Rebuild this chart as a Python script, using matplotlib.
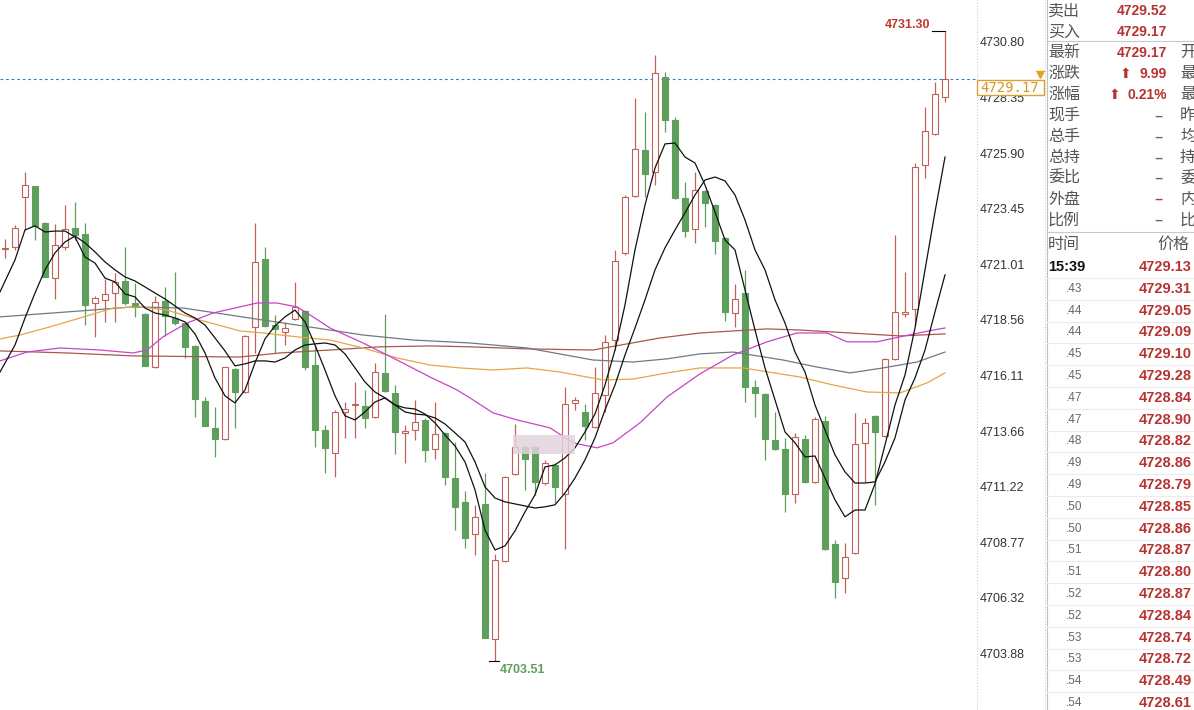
import matplotlib
matplotlib.use("Agg")
import matplotlib.pyplot as plt
from matplotlib.patches import Rectangle
from matplotlib.lines import Line2D

# ---- candle data (one bar per slot, left to right) ----
opens = [4721.68, 4721.77, 4723.97, 4724.46, 4722.83, 4720.40, 4721.77, 4722.61, 4722.34, 4719.30,
         4719.44, 4719.74, 4720.27, 4719.30, 4718.82, 4716.48, 4719.39, 4718.64, 4718.42, 4717.41,
         4714.99, 4713.80, 4713.31, 4716.40, 4715.38, 4718.25, 4721.24, 4718.33, 4718.03, 4718.60,
         4718.95, 4716.57, 4713.71, 4712.70, 4714.50, 4714.79, 4714.77, 4714.28, 4716.22, 4715.34,
         4713.58, 4713.71, 4714.15, 4712.87, 4713.58, 4711.59, 4710.54, 4709.13, 4710.45, 4704.50,
         4707.94, 4711.77, 4712.96, 4712.96, 4711.37, 4712.17, 4710.89, 4714.90, 4714.50, 4713.84,
         4715.25, 4717.67, 4721.51, 4724.02, 4726.04, 4725.07, 4729.26, 4727.36, 4723.93, 4722.56,
         4724.24, 4723.62, 4722.17, 4718.86, 4719.74, 4715.60, 4715.29, 4713.27, 4712.87, 4710.89,
         4713.31, 4711.42, 4714.11, 4708.69, 4707.19, 4708.29, 4713.14, 4714.33, 4713.44, 4716.84,
         4718.82, 4719.04, 4725.38, 4726.75, 4728.38]
highs = [4722.12, 4722.74, 4725.07, 4724.46, 4722.87, 4722.78, 4723.62, 4723.75, 4722.83, 4719.61,
         4720.36, 4720.62, 4721.77, 4720.18, 4718.86, 4719.61, 4720.01, 4720.67, 4718.47, 4717.45,
         4715.16, 4714.72, 4716.48, 4716.44, 4717.89, 4722.83, 4721.77, 4718.78, 4718.47, 4720.23,
         4718.99, 4717.45, 4713.93, 4714.59, 4714.94, 4715.82, 4715.47, 4716.66, 4718.82, 4715.69,
         4713.93, 4715.03, 4714.24, 4714.94, 4713.62, 4713.18, 4711.02, 4710.41, 4711.81, 4708.25,
         4711.68, 4713.98, 4713.05, 4713.00, 4712.39, 4712.25, 4715.60, 4715.16, 4714.85, 4716.48,
         4717.89, 4721.64, 4724.06, 4728.33, 4727.72, 4730.23, 4729.48, 4727.50, 4724.63, 4725.07,
         4724.28, 4723.66, 4722.21, 4720.14, 4720.76, 4715.91, 4715.34, 4714.50, 4713.36, 4713.58,
         4713.49, 4714.28, 4714.33, 4708.86, 4708.73, 4714.46, 4714.24, 4714.37, 4716.88, 4722.30,
         4720.67, 4725.47, 4727.94, 4729.04, 4731.30]
lows = [4721.29, 4721.64, 4722.52, 4722.08, 4720.45, 4719.48, 4721.64, 4722.08, 4718.33, 4717.81,
        4718.47, 4718.47, 4719.22, 4718.69, 4716.53, 4716.44, 4717.85, 4718.33, 4716.88, 4714.28,
        4713.89, 4712.52, 4713.27, 4713.80, 4715.34, 4717.10, 4718.25, 4717.10, 4717.45, 4718.55,
        4716.35, 4712.96, 4711.81, 4711.64, 4713.36, 4713.36, 4713.80, 4714.24, 4715.38, 4712.65,
        4712.25, 4713.27, 4712.30, 4712.43, 4711.29, 4709.30, 4708.51, 4708.20, 4704.55, 4703.51,
        4707.89, 4711.73, 4711.07, 4710.85, 4711.29, 4710.49, 4708.47, 4714.59, 4713.27, 4713.80,
        4714.50, 4717.23, 4721.42, 4723.97, 4723.97, 4724.50, 4726.84, 4723.88, 4722.21, 4721.95,
        4722.65, 4721.46, 4718.51, 4718.25, 4714.94, 4714.28, 4712.39, 4712.83, 4710.10, 4710.49,
        4711.37, 4711.37, 4708.42, 4706.31, 4706.53, 4708.25, 4711.42, 4710.41, 4713.40, 4716.79,
        4718.69, 4718.29, 4724.81, 4726.70, 4728.16]
closes = [4721.70, 4722.61, 4724.50, 4722.70, 4720.45, 4721.86, 4722.56, 4722.30, 4719.22, 4719.52,
          4719.70, 4720.23, 4719.30, 4719.13, 4716.53, 4719.35, 4718.73, 4718.42, 4717.37, 4715.07,
          4713.89, 4713.31, 4716.48, 4715.38, 4717.85, 4721.11, 4718.29, 4718.16, 4718.20, 4719.13,
          4716.48, 4713.71, 4712.92, 4714.50, 4714.63, 4714.81, 4714.24, 4716.26, 4715.43, 4713.62,
          4713.66, 4714.06, 4712.83, 4713.53, 4711.64, 4710.32, 4708.95, 4709.88, 4704.55, 4707.98,
          4711.64, 4712.96, 4712.43, 4711.42, 4712.25, 4711.20, 4714.85, 4715.03, 4713.89, 4715.34,
          4717.59, 4721.15, 4723.97, 4726.09, 4724.99, 4729.43, 4727.36, 4723.93, 4722.47, 4724.28,
          4723.71, 4722.03, 4718.91, 4719.48, 4715.60, 4715.34, 4713.31, 4712.87, 4710.89, 4713.40,
          4711.42, 4714.19, 4708.47, 4707.01, 4708.11, 4713.09, 4714.02, 4713.62, 4716.84, 4718.91,
          4718.91, 4725.29, 4726.88, 4728.51, 4729.17]

# ---- moving average lines (bar position, price) ----
ma_fast_x = [-0.5] + list(range(1, 95))
ma_fast = [4719.79, 4721.20, 4722.52, 4722.70, 4722.43, 4722.47, 4722.47, 4722.21, 4721.33, 4721.06,
           4720.40, 4720.23, 4719.70, 4719.57, 4719.08, 4718.86, 4718.77, 4718.64, 4718.47, 4717.94,
           4717.10, 4716.00, 4715.21, 4714.90, 4715.47, 4716.66, 4717.72, 4718.29, 4718.69, 4718.99,
           4718.47, 4717.45, 4716.35, 4715.21, 4714.33, 4714.15, 4714.50, 4714.94, 4715.12, 4714.81,
           4714.68, 4714.63, 4714.41, 4714.02, 4713.49, 4713.00, 4712.30, 4711.07, 4709.30, 4708.42,
           4708.60, 4709.26, 4710.10, 4710.85, 4712.08, 4712.17, 4712.48, 4712.92, 4713.62, 4714.41,
           4715.69, 4717.23, 4719.22, 4721.64, 4723.62, 4725.25, 4726.31, 4726.35, 4725.73, 4725.47,
           4724.50, 4723.31, 4722.08, 4721.64, 4719.88, 4718.11, 4716.44, 4715.03, 4713.62, 4713.14,
           4712.52, 4712.56, 4711.59, 4710.63, 4709.88, 4710.18, 4710.18, 4711.33, 4713.05, 4714.81,
           4716.13, 4718.20, 4720.76, 4723.31, 4725.73]
ma_slow_x = [-0.5] + list(range(1, 95))
ma_slow = [4716.26, 4717.45, 4718.64, 4719.74, 4720.76, 4721.51, 4721.99, 4722.25, 4721.95, 4721.55,
           4721.11, 4720.76, 4720.45, 4720.27, 4720.01, 4719.74, 4719.48, 4719.17, 4718.86, 4718.64,
           4718.33, 4717.76, 4717.19, 4716.53, 4716.62, 4716.75, 4716.75, 4716.70, 4716.88, 4717.23,
           4717.45, 4717.50, 4717.54, 4717.45, 4717.06, 4716.44, 4715.82, 4715.38, 4715.12, 4714.81,
           4714.50, 4714.41, 4714.37, 4714.24, 4713.97, 4713.58, 4713.18, 4712.30, 4711.20, 4710.71,
           4710.54, 4710.45, 4710.36, 4710.27, 4710.32, 4710.41, 4710.93, 4711.59, 4712.39, 4713.36,
           4714.59, 4715.69, 4717.01, 4718.20, 4719.44, 4720.76, 4721.73, 4722.52, 4723.27, 4724.06,
           4724.72, 4724.85, 4724.68, 4724.06, 4722.96, 4721.64, 4720.76, 4719.44, 4718.42, 4717.14,
           4716.26, 4714.81, 4713.71, 4712.61, 4711.86, 4711.37, 4711.37, 4711.42, 4712.30, 4713.36,
           4715.03, 4716.00, 4717.23, 4718.91, 4720.54]

ma_magenta_x = [-0.5, 2.2, 5.5, 9.5, 12.8, 14.2, 15.8, 18.2, 20.8, 23.5, 25.2, 27.2, 29.2, 30.8, 32.5,
                35.8, 39.2, 42.5, 45.2, 46.5, 48.8, 51.2, 54.5, 56.8, 59.2, 60.8, 63.5, 66.2, 69.5,
                72.8, 76.2, 79.2, 82.2, 84.2, 87.2, 89.5, 92.8, 94]
ma_magenta = [4716.75, 4717.14, 4717.32, 4717.23, 4717.10, 4717.23, 4717.81, 4718.42, 4718.86, 4719.13,
              4719.30, 4719.30, 4719.13, 4718.69, 4718.20, 4717.54, 4716.79, 4716.04, 4715.47, 4715.12,
              4714.46, 4714.15, 4713.80, 4713.14, 4712.92, 4713.14, 4714.02, 4715.16, 4716.18, 4717.01,
              4717.59, 4717.98, 4717.98, 4717.59, 4717.59, 4717.81, 4718.11, 4718.20]

ma_gray_x = [-0.5, 7.5, 12.8, 17.8, 22.5, 25.8, 29.2, 32.5, 35.8, 40.8, 46.5, 52.2, 58.8, 62.8, 66.2,
             69.5, 72.8, 77.8, 81.2, 84.5, 87.8, 91.2, 94]
ma_gray = [4718.69, 4718.95, 4719.13, 4719.08, 4718.77, 4718.55, 4718.33, 4718.11, 4717.89, 4717.67,
           4717.54, 4717.32, 4716.79, 4716.70, 4716.84, 4717.06, 4717.14, 4716.79, 4716.48, 4716.22,
           4716.44, 4716.70, 4717.14]

ma_orange_x = [-0.5, 1.5, 4.5, 7.5, 10.8, 13.5, 16.2, 19.5, 23.5, 25.8, 29.2, 32.5, 35.8, 39.2, 42.5,
               45.5, 48.8, 52.2, 55.5, 59.8, 62.8, 66.2, 69.5, 73.8, 79.5, 82.8, 86.2, 89.5, 92.2, 94]
ma_orange = [4717.72, 4717.89, 4718.25, 4718.64, 4719.08, 4719.13, 4718.99, 4718.55, 4718.07, 4717.98,
             4717.81, 4717.67, 4717.32, 4716.88, 4716.57, 4716.44, 4716.35, 4716.44, 4716.26, 4715.91,
             4715.95, 4716.22, 4716.44, 4716.44, 4716.04, 4715.69, 4715.38, 4715.34, 4715.78, 4716.22]

ma_brown_x = [-0.5, 6.2, 12.8, 23.5, 27.5, 32.5, 37.5, 42.5, 46.5, 52.2, 58.8, 65.5, 69.5, 76.2, 79.5,
              84.5, 89.5, 94]
ma_brown = [4717.19, 4717.10, 4716.97, 4716.92, 4717.10, 4717.23, 4717.37, 4717.41, 4717.37, 4717.28,
            4717.23, 4717.76, 4717.98, 4718.16, 4718.11, 4717.98, 4717.85, 4717.94]

# price axis
price_ticks = [4730.80, 4728.35, 4725.90, 4723.45, 4721.01, 4718.56,
               4716.11, 4713.66, 4711.22, 4708.77, 4706.32, 4703.88]
last_price = 4729.17
high_price = 4731.30
low_price = 4703.51

# quote panel
quote_labels = ['卖出', '买入', '最新', '涨跌', '涨幅', '现手', '总手', '总持', '委比', '外盘', '比例']
quote_values = ['4729.52', '4729.17', '4729.17', '9.99', '0.21%', '–', '–', '–', '–', '–', '–']
quote_extra = ['', '', '开', '最', '最', '昨', '均', '持', '委', '内', '比']

tick_times = ['15:39', '.43', '.44', '.44', '.45', '.45', '.47', '.47', '.48', '.49', '.49',
              '.50', '.50', '.51', '.51', '.52', '.52', '.53', '.53', '.54', '.54']
tick_prices = ['4729.13', '4729.31', '4729.05', '4729.09', '4729.10', '4729.28', '4728.84',
               '4728.90', '4728.82', '4728.86', '4728.79', '4728.85', '4728.86', '4728.87',
               '4728.80', '4728.87', '4728.84', '4728.74', '4728.72', '4728.49', '4728.61']

up_col = '#c0625a'
down_col = '#5e9f5e'
red = '#b83232'
cjk = ['Noto Sans CJK SC', 'DejaVu Sans']

W, H = 1194, 710
fig = plt.figure(figsize=(W / 100, H / 100), dpi=100)
fig.patch.set_facecolor('white')

def fx(px):
    return px / W

def fy(py):
    return 1 - py / H

ax = fig.add_axes([0, 0, 977 / W, 1])
ax.set_xlim(-0.5, 97.2)
ax.set_ylim(4701.37, 4732.65)
for s in ax.spines.values():
    s.set_visible(False)
ax.set_xticks([])
ax.yaxis.tick_right()
ax.set_yticks(price_ticks)
ax.set_yticklabels([f'{v:.2f}' for v in price_ticks])
ax.tick_params(axis='y', length=0, pad=2, labelsize=9, labelcolor='#333333')
for lab in ax.get_yticklabels():
    lab.set_family('Liberation Sans')

# candles
for i, (o, h, l, c) in enumerate(zip(opens, highs, lows, closes)):
    up = c >= o
    col = up_col if up else down_col
    ax.vlines(i, l, h, color=col, lw=0.9, zorder=2)
    ax.bar(i, max(abs(c - o), 0.06), bottom=min(o, c), width=0.62,
           facecolor='white' if up else down_col, edgecolor=col, linewidth=0.8, zorder=3)

# moving averages
ax.plot(ma_brown_x, ma_brown, color='#a8574e', lw=0.9, zorder=4)
ax.plot(ma_gray_x, ma_gray, color='#6f7a82', lw=0.9, zorder=4)
ax.plot(ma_orange_x, ma_orange, color='#e7a545', lw=0.9, zorder=4)
ax.plot(ma_magenta_x, ma_magenta, color='#c844c8', lw=0.9, zorder=4)
ax.plot(ma_slow_x, ma_slow, color='#111111', lw=0.9, zorder=4)
ax.plot(ma_fast_x, ma_fast, color='#111111', lw=0.9, zorder=4)

# blurred watermark patch
ax.add_patch(Rectangle((50.8, 4712.65), 6.2, 0.84, facecolor='#e2d3dc', edgecolor='none',
                       alpha=0.85, zorder=5))

# last price line
ax.axhline(last_price, color='#2f80c8', lw=0.8, ls=(0, (2.5, 2.5)), zorder=1)

# high / low markers
hi_i = highs.index(high_price)
lo_i = lows.index(low_price)
ax.plot([hi_i - 1.25, hi_i], [high_price, high_price], color='black', lw=0.8, zorder=4)
ax.text(hi_i - 1.5, high_price + 0.25, f'{high_price:.2f}', ha='right', va='center',
        color='#c0392b', fontsize=9, fontweight='bold', family='Liberation Sans')
ax.plot([lo_i - 0.6, lo_i + 0.4], [low_price, low_price], color='black', lw=0.8, zorder=4)
ax.text(lo_i + 0.5, low_price - 0.36, f'{low_price:.2f}', ha='left', va='center',
        color='#5e9f5e', fontsize=9, fontweight='bold', family='Liberation Sans')

# separators
fig.add_artist(Line2D([fx(977), fx(977)], [0, 1], color='#cfcfcf', lw=0.8, ls=':'))
fig.add_artist(Line2D([fx(1045), fx(1045)], [0, 1], color='#cfcfcf', lw=0.8, ls=':'))
fig.add_artist(Line2D([fx(1047), fx(1047)], [0, 1], color='#c0c0c0', lw=0.8))

# last price box
fig.add_artist(Rectangle((fx(977), fy(95)), 67 / W, 15 / H, transform=fig.transFigure,
                         facecolor='white', edgecolor='#e0a030', lw=1, zorder=5))
fig.text(fx(980), fy(87.5), f'{last_price:.2f}', ha='left', va='center', color='#d09a20',
         fontsize=10, family='DejaVu Sans Mono', zorder=6)
fig.add_artist(Line2D([fx(1040)], [fy(75)], marker='v', ms=5, color='#e8a020', lw=0))
fig.add_artist(Line2D([fx(1036), fx(1044)], [fy(71), fy(71)], color='#e8a020', lw=1))

# quote panel
for r, (lab, val, ext) in enumerate(zip(quote_labels, quote_values, quote_extra)):
    yy = fy(11 + 20.9 * r)
    fig.text(fx(1048), yy, lab, ha='left', va='center', fontsize=11.5, color='#555555', family=cjk)
    if val == '–':
        col = red if lab == '外盘' else '#666666'
        fig.text(fx(1158), yy, val, ha='center', va='center', fontsize=12, color=col)
    else:
        fig.text(fx(1167), yy, val, ha='right', va='center', fontsize=10, color=red,
                 fontweight='bold', family='Liberation Sans')
        if lab in ('涨跌', '涨幅'):
            wid = 34 if lab == '涨跌' else 45
            fig.text(fx(1167 - wid - 2), yy, '⬆', ha='right', va='center', fontsize=10,
                     color=red, family='DejaVu Sans')
    if ext:
        fig.text(fx(1180), yy, ext, ha='left', va='center', fontsize=11.5, color='#555555', family=cjk)
fig.add_artist(Line2D([fx(1047), 1], [fy(41), fy(41)], color='#c8c8c8', lw=0.8))
fig.add_artist(Line2D([fx(1047), 1], [fy(232), fy(232)], color='#c8c8c8', lw=0.8))

# tick list
fig.text(fx(1048), fy(244), '时间', ha='left', va='center', fontsize=11.5, color='#555555', family=cjk)
fig.text(fx(1157), fy(244), '价格', ha='left', va='center', fontsize=11.5, color='#555555', family=cjk)
for r, (t, p) in enumerate(zip(tick_times, tick_prices)):
    yy = fy(267 + 21.8 * r)
    if r == 0:
        fig.text(fx(1048), yy, t, ha='left', va='center', fontsize=10.5, color='#111111',
                 fontweight='bold', family='Liberation Sans')
    else:
        fig.text(fx(1082), yy, t, ha='right', va='center', fontsize=8.5, color='#666666',
                 family='Liberation Sans')
    fig.text(fx(1192), yy, p, ha='right', va='center', fontsize=10.5, color=red,
             fontweight='bold', family='Liberation Sans')
    if r < len(tick_times) - 1:
        fig.add_artist(Line2D([fx(1047), 1], [fy(278 + 21.8 * r)] * 2, color='#ececec', lw=0.8))

fig.savefig('out.png', dpi=100)
